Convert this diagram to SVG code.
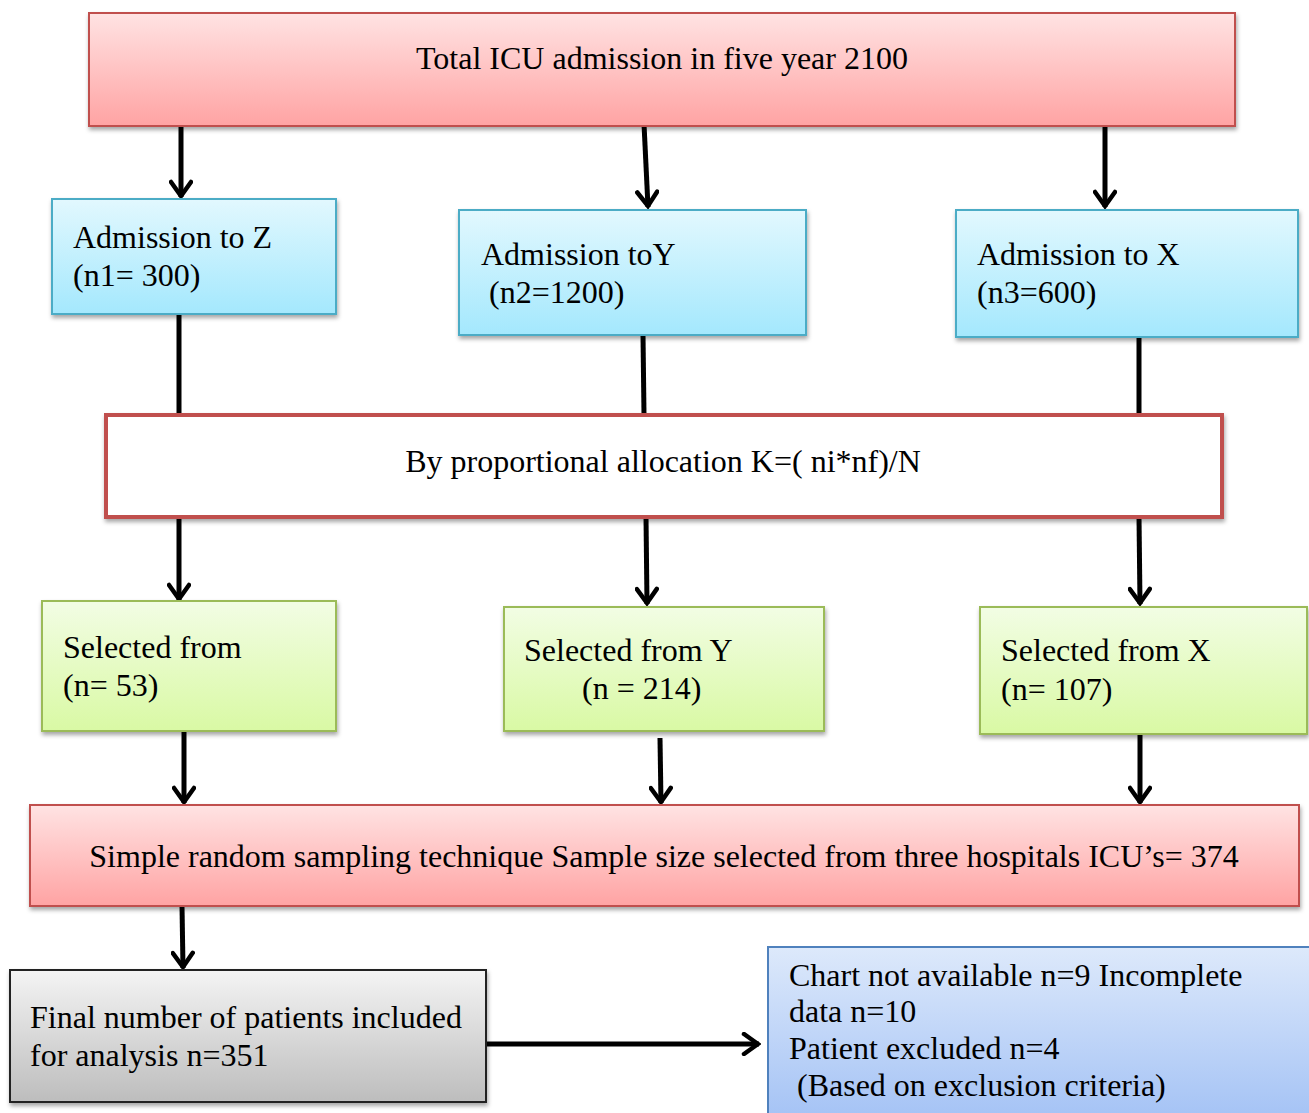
<svg xmlns="http://www.w3.org/2000/svg" width="1309" height="1113" viewBox="0 0 1309 1113">
<style>
text{font-family:"Liberation Serif",serif;font-size:32px;fill:#000}
.red{fill:url(#gRed);stroke:#c0504d;stroke-width:2}
.blue{fill:url(#gBlue);stroke:#4bacc6;stroke-width:2}
.green{fill:url(#gGreen);stroke:#9bbb59;stroke-width:2}
.gray{fill:url(#gGray);stroke:#222;stroke-width:2}
.ex{fill:url(#gEx);stroke:#4f81bd;stroke-width:2}
.mid{fill:#fff;stroke:#c0504d;stroke-width:4}
.c{stroke:#000;stroke-width:5;fill:none;marker-end:url(#arr)}
.l{stroke:#000;stroke-width:5;fill:none}
</style>
<defs>
<linearGradient id="gRed" x1="0" y1="0" x2="0" y2="1"><stop offset="0" stop-color="#ffe3e3"/><stop offset="1" stop-color="#ffa3a3"/></linearGradient>
<linearGradient id="gBlue" x1="0" y1="0" x2="0" y2="1"><stop offset="0" stop-color="#e2f8fe"/><stop offset="1" stop-color="#a4e8fd"/></linearGradient>
<linearGradient id="gGreen" x1="0" y1="0" x2="0" y2="1"><stop offset="0" stop-color="#f2fde4"/><stop offset="1" stop-color="#d9f9a4"/></linearGradient>
<linearGradient id="gGray" x1="0" y1="0" x2="0" y2="1"><stop offset="0" stop-color="#f4f4f4"/><stop offset="1" stop-color="#bdbdbd"/></linearGradient>
<linearGradient id="gEx" x1="0" y1="0" x2="0" y2="1"><stop offset="0" stop-color="#dde9fb"/><stop offset="1" stop-color="#a5c3f5"/></linearGradient>
<filter id="sh" x="-5%" y="-10%" width="110%" height="130%"><feDropShadow dx="1" dy="3" stdDeviation="2" flood-color="#000" flood-opacity="0.35"/></filter>
<marker id="arr" viewBox="0 0 20 24" refX="18" refY="12" markerWidth="20" markerHeight="24" markerUnits="userSpaceOnUse" orient="auto"><path d="M3,2 L17,12 L3,22" fill="none" stroke="#000" stroke-width="4.5" stroke-linejoin="miter" stroke-linecap="round"/></marker>
</defs>
<g id="connectors">
<line class="c" x1="181" y1="126" x2="181" y2="197"/>
<line class="c" x1="644" y1="124" x2="648" y2="207"/>
<line class="c" x1="1105" y1="126" x2="1105" y2="207"/>
<line class="l" x1="179" y1="314" x2="179" y2="415"/>
<line class="l" x1="643" y1="335" x2="644" y2="415"/>
<line class="l" x1="1139" y1="337" x2="1139" y2="415"/>
<line class="c" x1="179" y1="517" x2="179" y2="600"/>
<line class="c" x1="646" y1="517" x2="647" y2="604"/>
<line class="c" x1="1139" y1="517" x2="1140" y2="604"/>
<line class="c" x1="184" y1="731" x2="184" y2="803"/>
<line class="c" x1="660" y1="738" x2="661" y2="803"/>
<line class="c" x1="1140" y1="734" x2="1140" y2="803"/>
<line class="c" x1="182" y1="906" x2="183" y2="968"/>
<line class="c" x1="486" y1="1044" x2="759" y2="1044"/>
</g>
<g id="total"><rect class="red" filter="url(#sh)" x="89" y="13" width="1146" height="113"/><text x="662" y="69" text-anchor="middle">Total ICU admission in five year 2100</text></g>
<g id="admZ"><rect class="blue" filter="url(#sh)" x="52" y="199" width="284" height="115"/><text x="73" y="248">Admission to Z</text><text x="73" y="286">(n1= 300)</text></g>
<g id="admY"><rect class="blue" filter="url(#sh)" x="459" y="210" width="347" height="125"/><text x="481" y="265">Admission toY</text><text x="481" y="303" xml:space="preserve"> (n2=1200)</text></g>
<g id="admX"><rect class="blue" filter="url(#sh)" x="956" y="210" width="342" height="127"/><text x="977" y="265">Admission to X</text><text x="977" y="303">(n3=600)</text></g>
<g id="alloc"><rect class="mid" filter="url(#sh)" x="106" y="415" width="1116" height="102"/><text x="663" y="472" text-anchor="middle">By proportional allocation K=( ni*nf)/N</text></g>
<g id="selZ"><rect class="green" filter="url(#sh)" x="42" y="601" width="294" height="130"/><text x="63" y="658">Selected from</text><text x="63" y="696">(n= 53)</text></g>
<g id="selY"><rect class="green" filter="url(#sh)" x="504" y="607" width="320" height="124"/><text x="524" y="661">Selected from Y</text><text x="582" y="699">(n = 214)</text></g>
<g id="selX"><rect class="green" filter="url(#sh)" x="980" y="607" width="327" height="127"/><text x="1001" y="661">Selected from X</text><text x="1001" y="700">(n= 107)</text></g>
<g id="sample"><rect class="red" filter="url(#sh)" x="30" y="805" width="1269" height="101"/><text x="664" y="867" text-anchor="middle">Simple random sampling technique Sample size selected from three hospitals ICU’s= 374</text></g>
<g id="final"><rect class="gray" filter="url(#sh)" x="10" y="970" width="476" height="132"/><text x="30" y="1028">Final number of patients included</text><text x="30" y="1066">for analysis n=351</text></g>
<g id="excluded"><rect class="ex" x="768" y="947" width="545" height="170"/><text x="789" y="986">Chart not available n=9 Incomplete</text><text x="789" y="1022">data n=10</text><text x="789" y="1059">Patient excluded n=4</text><text x="789" y="1096" xml:space="preserve"> (Based on exclusion criteria)</text></g>
</svg>
